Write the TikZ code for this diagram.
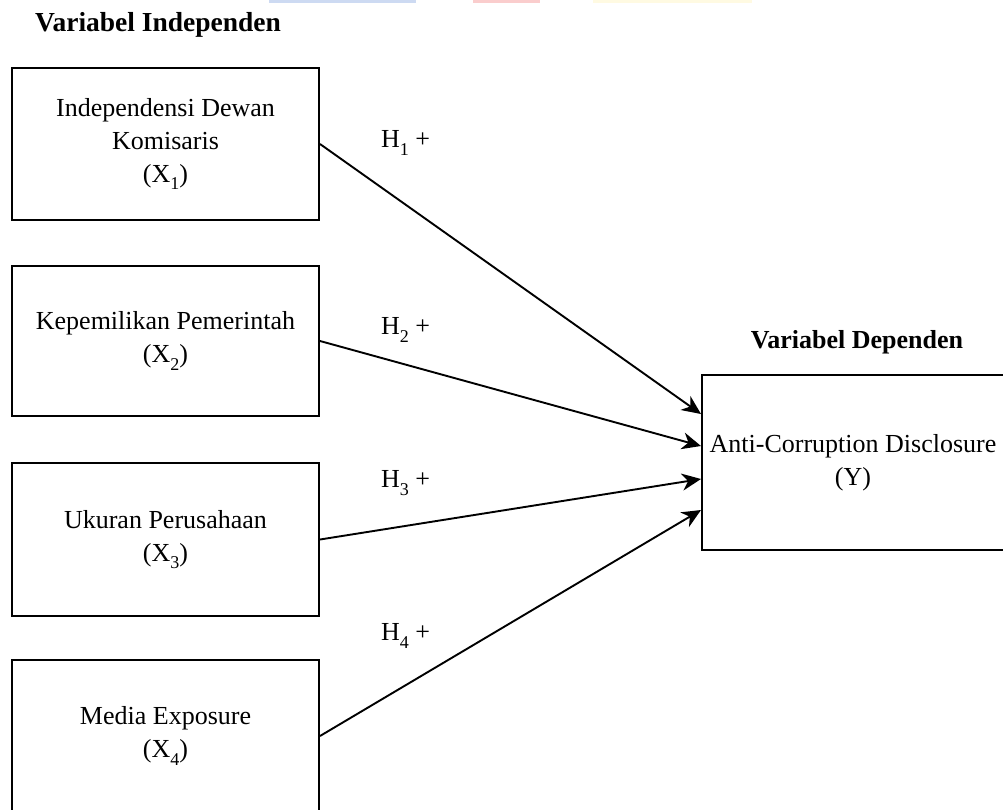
\documentclass[tikz,border=0pt]{standalone}
\usepackage{fontspec}
\setmainfont{Liberation Serif}
\usetikzlibrary{calc,arrows.meta}
\definecolor{stripblue}{RGB}{205,218,242}
\definecolor{stripred}{RGB}{250,205,205}
\definecolor{stripyellow}{RGB}{255,250,226}
\newcommand\lowsub[1]{\raisebox{-0.28em}{\fontsize{18}{18}\selectfont #1}}
\begin{document}
\begin{tikzpicture}[x=1pt,y=-1pt,
  txt/.style={font=\fontsize{26}{33}\selectfont, align=center},
  varbox/.style={draw=black, line width=2pt, rectangle, minimum width=307pt, inner sep=0pt, txt},
  heading/.style={font=\fontsize{26}{33}\selectfont\bfseries, inner sep=0pt},
  hlabel/.style={font=\fontsize{26}{33}\selectfont, inner sep=0pt, anchor=west},
  arr/.style={line width=1.9pt, -{Stealth[length=19pt,width=17pt,inset=6pt]}}]
\useasboundingbox (0,0) rectangle (1003,809);
% faint strips at the top edge
\fill[stripblue] (269,0) rectangle (416,3);
\fill[stripred] (473,0) rectangle (540,2.5);
\fill[stripyellow] (593,0) rectangle (752,2.5);
% headings
\node[heading, anchor=west, font=\fontsize{27.5}{33}\selectfont\bfseries] (hi) at (35,25) {Variabel Independen};
\node[heading] (hd) at (857,342) {Variabel Dependen};
% independent boxes
\node[varbox, minimum height=152pt] (x1) at (165.5,144) {Independensi Dewan\\Komisaris\\(X\lowsub{1})};
\node[varbox, minimum height=150pt] (x2) at (165.5,341) {Kepemilikan Pemerintah\\(X\lowsub{2})};
\node[varbox, minimum height=153pt] (x3) at (165.5,539.5) {Ukuran Perusahaan\\(X\lowsub{3})};
\node[varbox, minimum height=152pt] (x4) at (165.5,736) {Media Exposure\\(X\lowsub{4})};
% dependent box
\node[varbox, minimum width=302pt, minimum height=175pt] (y) at (853,462.5) {Anti-Corruption Disclosure\\(Y)};
% entry points on the dependent box
\coordinate (e1) at ($(y.north west)+(0,40)$);
\coordinate (e2) at ($(y.north west)+(0,72)$);
\coordinate (e3) at ($(y.north west)+(0,105)$);
\coordinate (e4) at ($(y.north west)+(0,136)$);
% connectors
\draw[arr] (x1.east) -- (e1);
\draw[arr] (x2.east) -- (e2);
\draw[arr] (x3.east) -- (e3);
\draw[arr] (x4.east) -- (e4);
% hypothesis labels
\node[hlabel] (h1) at (381,143) {H\lowsub{1} +};
\node[hlabel] (h2) at (381,330) {H\lowsub{2} +};
\node[hlabel] (h3) at (381,483) {H\lowsub{3} +};
\node[hlabel] (h4) at (381,636) {H\lowsub{4} +};
\end{tikzpicture}
\end{document}
